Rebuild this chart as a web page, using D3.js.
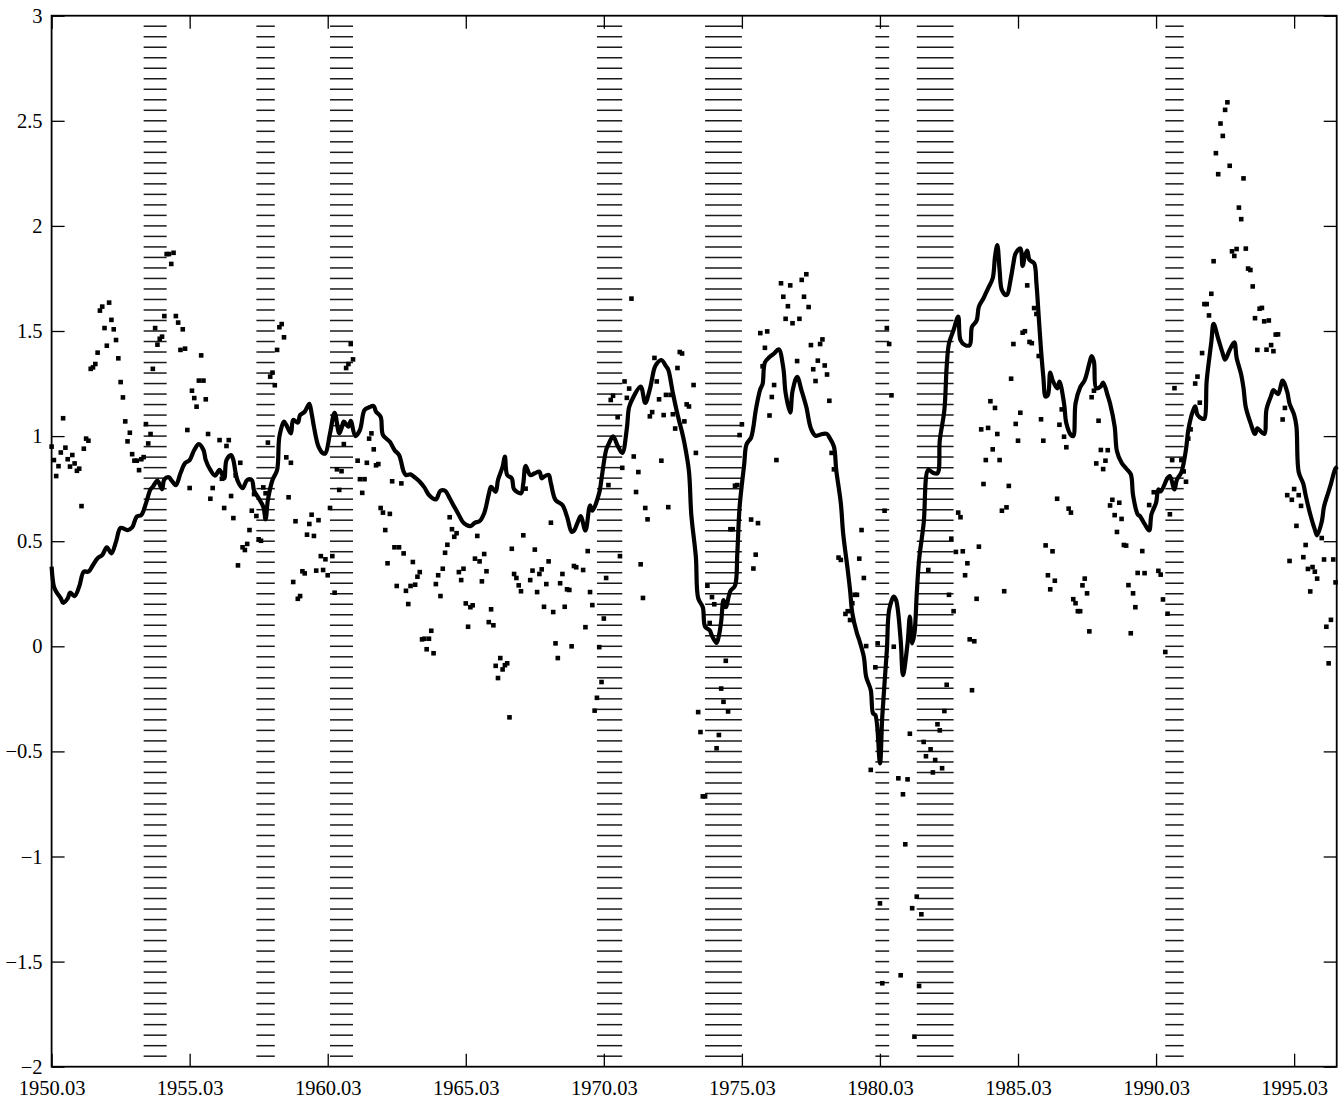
<!DOCTYPE html>
<html>
<head>
<meta charset="utf-8">
<script src="https://d3js.org/d3.v7.min.js"></script>
<style>
  body { margin: 0; background: #fff; }
  svg text { font-family: "Liberation Serif", "Times New Roman", serif; font-size: 20.5px; fill: #000; }
</style>
</head>
<body>
<script>
// month index 0 = 1950.03 (one entry per month)
var xTickLabels = ["1950.03", "1955.03", "1960.03", "1965.03", "1970.03",
                   "1975.03", "1980.03", "1985.03", "1990.03", "1995.03"];
var yTicks = [-2, -1.5, -1, -0.5, 0, 0.5, 1, 1.5, 2, 2.5, 3];

// shaded periods (start, end)
var recessions = [["1953.07", "1954.05"], ["1957.08", "1958.04"], ["1960.04", "1961.02"],
                  ["1969.12", "1970.11"], ["1973.11", "1975.03"], ["1980.01", "1980.07"],
                  ["1981.07", "1982.11"], ["1990.07", "1991.03"]];

// monthly points, null = no mark
var dotValues = [
  0.95,0.886,0.81,0.857,0.922,1.085,0.945,0.89,0.855,0.91,0.87,0.835,
  0.845,0.667,0.94,0.988,0.978,1.32,1.327,1.343,1.397,1.597,1.616,1.514,
  1.43,1.635,1.553,1.508,1.457,1.37,1.257,1.184,1.07,0.975,1.016,0.914,
  0.883,0.883,0.838,0.89,0.9,1.057,0.965,1.01,1.32,1.514,1.435,1.463,
  1.473,1.571,1.866,1.866,1.819,1.872,1.571,1.54,1.41,1.508,1.416,1.029,
  0.753,1.216,1.181,1.14,1.264,1.384,1.264,1.175,1.01,0.702,0.753,null,
  null,0.981,0.797,0.658,0.953,0.981,0.715,0.61,0.813,0.385,0.873,0.471,
  0.458,0.487,0.553,0.645,0.724,0.62,0.509,0.502,0.756,0.728,0.969,1.283,
  1.302,1.242,1.41,1.518,1.533,1.47,0.899,0.709,0.873,0.306,0.595,0.226,
  0.239,0.357,0.347,0.531,0.582,0.626,0.525,0.36,0.6,0.429,0.363,0.414,
  0.338,0.658,0.429,0.255,0.842,0.744,0.833,0.962,1.324,1.343,1.438,1.365,
  null,0.883,0.795,0.73,0.795,0.873,0.988,1.013,0.937,0.861,0.867,0.658,
  0.636,0.553,0.395,0.63,0.785,0.471,0.287,0.471,0.775,0.442,0.264,0.201,
  0.287,0.401,0.293,0.331,0.353,0.033,0.036,-0.014,0.036,0.074,-0.033,0.296,
  0.338,0.239,0.369,0.445,0.483,0.614,0.557,0.521,0.538,0.353,0.315,0.369,
  0.204,0.093,0.186,0.195,0.417,0.525,0.404,0.309,0.439,0.357,0.115,0.176,
  0.1,-0.093,-0.151,-0.056,-0.11,-0.09,-0.081,-0.338,0.464,0.344,0.325,0.29,
  0.262,0.528,0.75,null,0.315,0.36,0.46,0.258,0.344,0.366,0.188,0.296,
  0.404,0.588,0.163,0.014,-0.056,0.3,0.344,0.188,0.271,0.268,0.0,0.382,
  0.376,null,null,0.363,0.091,0.453,0.258,0.196,-0.306,-0.245,-0.004,-0.17,
  0.132,0.325,0.767,1.172,1.192,null,1.09,0.429,0.849,1.26,1.182,1.226,
  1.654,0.903,0.734,0.829,0.39,0.23,0.658,0.604,1.094,1.114,1.372,1.26,
  1.175,0.883,1.1,1.196,0.662,1.196,1.104,1.036,1.324,1.4,1.393,1.07,
  1.151,1.141,null,1.243,0.92,-0.313,-0.408,-0.714,-0.714,0.288,0.111,0.234,
  0.2,-0.485,-0.422,-0.201,-0.264,-0.069,-0.31,0.557,0.557,0.764,0.767,1.005,
  1.056,null,null,null,0.603,0.37,0.436,0.586,1.49,1.332,1.42,1.498,
  1.098,1.186,1.243,0.886,null,1.727,1.663,1.558,1.618,1.717,1.537,null,
  1.357,1.558,1.743,1.663,1.77,1.614,1.433,1.318,1.262,1.359,1.438,1.46,
  1.336,1.293,1.168,0.92,0.842,null,0.422,0.411,null,0.154,0.167,0.125,
  0.205,0.245,0.245,0.417,0.553,0.325,0.001,null,-0.588,null,-0.1,0.014,
  -1.223,-1.603,0.645,1.514,1.438,1.194,-0.002,null,-0.628,-1.565,-0.704,-0.942,
  -0.633,-0.416,-1.246,-1.857,-1.191,-1.616,-1.275,-0.455,-0.523,0.363,-0.49,-0.6,
  -0.541,-0.371,-0.4,-0.58,-0.308,-0.183,0.245,0.512,0.167,0.449,0.636,0.614,
  0.452,0.338,0.395,0.033,-0.209,0.024,0.226,0.474,1.032,0.772,0.886,1.039,
  1.166,0.937,1.134,1.01,0.886,0.645,0.262,0.661,0.763,1.273,1.438,1.058,
  0.978,1.111,1.492,1.499,1.717,1.448,1.442,1.609,1.581,1.381,1.08,0.978,
  0.48,0.338,0.271,0.452,0.312,0.702,1.054,1.127,0.997,0.947,0.655,0.636,
  0.224,0.205,0.167,0.167,0.29,0.322,0.252,0.071,1.185,1.216,0.87,1.073,
  0.934,0.843,0.883,0.933,0.67,0.697,0.624,0.544,0.683,0.606,0.482,0.479,
  0.291,0.062,0.252,0.186,0.349,null,0.453,0.348,null,0.672,null,0.733,
  null,0.359,0.341,0.223,-0.027,0.155,0.628,0.886,1.228,null,null,0.886,
  0.832,0.783,0.988,1.032,null,1.25,1.283,1.159,1.395,1.628,1.628,1.574,
  1.677,1.832,2.346,2.246,2.487,2.428,2.552,2.588,2.286,1.879,1.857,1.89,
  2.087,2.032,2.226,1.892,1.797,1.79,1.712,1.561,1.41,1.606,1.61,1.546,
  1.411,1.55,1.433,1.404,1.483,1.484,null,1.079,1.134,0.719,0.406,0.697,
  0.748,0.573,0.719,0.668,0.424,0.482,0.368,0.261,0.377,0.355,0.322,null,
  0.515,0.413,0.093,-0.081,0.126,0.413,0.304
];

// smoothed series: [month index, value]
var lineData = [
  [0,0.379],[1,0.284],[2,0.26],[4,0.228],[5,0.207],[7,0.228],[8,0.255],[10,0.239],[12,0.284],
  [14,0.355],[16,0.355],[18,0.387],[20,0.419],[22,0.434],[24,0.471],[26,0.442],[28,0.498],
  [30,0.563],[33,0.553],[35,0.566],[37,0.617],[39,0.625],[41,0.68],[43,0.747],[44,0.759],
  [46,0.788],[48,0.747],[49,0.794],[51,0.804],[52,0.791],[54,0.767],[56,0.823],[58,0.871],
  [60,0.886],[62,0.934],[64,0.962],[66,0.934],[67,0.886],[69,0.839],[71,0.812],[73,0.839],
  [75,0.799],[76,0.886],[78,0.91],[79,0.886],[80,0.823],[81,0.783],[83,0.752],[85,0.791],
  [87,0.791],[88,0.74],[90,0.704],[92,0.664],[93,0.604],[94,0.696],[96,0.791],[98,0.839],
  [99,0.997],[101,1.069],[102,1.053],[104,1.013],[105,1.077],[107,1.064],[108,1.1],[110,1.116],
  [112,1.153],[113,1.108],[114,1.045],[116,0.95],[118,0.918],[119,0.918],[121,1.013],[123,1.111],
  [125,1.013],[126,1.037],[127,1.069],[129,1.045],[130,1.073],[132,1.0],[134,1.029],[136,1.124],
  [138,1.137],[140,1.143],[141,1.116],[143,1.092],[144,1.005],[147,0.973],[149,0.934],[151,0.91],
  [153,0.831],[154,0.815],[156,0.818],[158,0.802],[160,0.783],[162,0.756],[164,0.72],[167,0.699],
  [169,0.74],[171,0.74],[173,0.704],[175,0.664],[177,0.625],[179,0.588],[182,0.572],[184,0.588],
  [186,0.595],[188,0.633],[190,0.724],[191,0.759],[193,0.735],[194,0.791],[196,0.854],[197,0.902],
  [198,0.815],[200,0.799],[201,0.747],[204,0.728],[205,0.775],[206,0.858],[208,0.815],[210,0.823],
  [212,0.831],[213,0.799],[214,0.807],[216,0.815],[217,0.775],[219,0.696],[222,0.672],[224,0.617],
  [226,0.545],[227,0.55],[229,0.6],[230,0.619],[232,0.551],[234,0.67],[235,0.645],[238,0.73],
  [239,0.798],[241,0.934],[242,0.96],[244,0.999],[246,0.954],[248,0.92],[250,1.036],[251,1.138],
  [253,1.189],[256,1.236],[258,1.158],[260,1.223],[262,1.324],[263,1.345],[265,1.362],[267,1.333],
  [268,1.316],[270,1.205],[272,1.104],[274,1.018],[275,0.968],[277,0.832],[278,0.628],[280,0.424],
  [281,0.229],[283,0.186],[284,0.093],[286,0.076],[287,0.05],[289,0.016],[290,0.05],[291,0.118],
  [292,0.22],[293,0.186],[295,0.263],[297,0.288],[298,0.441],[299,0.662],[301,0.866],[302,0.96],
  [304,0.993],[305,1.044],[306,1.121],[308,1.223],[309,1.248],[310,1.35],[312,1.376],[314,1.393],
  [316,1.413],[318,1.324],[319,1.205],[321,1.112],[322,1.214],[324,1.282],[326,1.214],[328,1.138],
  [330,1.036],[332,1.002],[335,1.01],[337,1.01],[338,0.994],[340,0.95],[341,0.839],[343,0.68],
  [344,0.538],[346,0.363],[347,0.268],[348,0.157],[350,0.062],[351,0.03],[353,-0.05],[354,-0.145],
  [356,-0.208],[357,-0.319],[358,-0.327],[360,-0.557],[361,-0.335],[363,-0.018],[364,0.173],
  [366,0.236],[367,0.22],[369,0.03],[370,-0.137],[372,0.014],[373,0.141],[374,0.014],[375,0.062],
  [376,0.252],[377,0.411],[379,0.585],[381,0.839],[383,0.826],[385,0.823],[386,0.98],[388,1.124],
  [389,1.33],[390,1.441],[392,1.505],[394,1.568],[395,1.457],[397,1.433],[399,1.433],[400,1.52],
  [402,1.549],[403,1.616],[405,1.656],[407,1.703],[409,1.751],[410,1.853],[411,1.909],[412,1.79],
  [413,1.695],[415,1.671],[417,1.758],[418,1.822],[419,1.87],[421,1.893],[422,1.809],[423,1.857],
  [424,1.882],[425,1.838],[427,1.822],[428,1.727],[429,1.568],[430,1.41],[431,1.283],[432,1.188],
  [433,1.196],[434,1.302],[435,1.267],[437,1.227],[438,1.259],[440,1.156],[441,1.061],[443,1.005],
  [444,1.0],[445,1.156],[447,1.232],[449,1.267],[451,1.346],[452,1.381],[453,1.355],[454,1.228],
  [456,1.237],[457,1.255],[459,1.192],[460,1.155],[462,1.046],[463,0.928],[465,0.873],[467,0.846],
  [469,0.819],[470,0.719],[472,0.628],[473,0.619],[475,0.582],[477,0.551],[478,0.628],[480,0.683],
  [481,0.746],[482,0.737],[485,0.801],[486,0.81],[488,0.746],[489,0.791],[491,0.828],[493,0.937],
  [494,1.028],[496,1.119],[497,1.141],[498,1.101],[500,1.083],[501,1.083],[502,1.264],[504,1.446],
  [505,1.534],[507,1.464],[509,1.392],[510,1.364],[512,1.41],[514,1.446],[515,1.373],[517,1.292],
  [518,1.228],[519,1.137],[521,1.064],[523,1.01],[524,1.037],[525,1.028],[527,1.01],[528,1.128],
  [530,1.192],[531,1.219],[533,1.2],[535,1.264],[537,1.21],[538,1.155],[540,1.101],[541,1.046],
  [542,0.828],[544,0.773],[545,0.719],[547,0.628],[549,0.555],[550,0.528],[552,0.592],[553,0.665],
  [555,0.737],[556,0.773],[558,0.846],[558.9,0.855]
];

// "YYYY.MM" -> months since 1950.03
function monthIndex(s) {
  var p = s.split(".");
  return (+p[0] - 1950) * 12 + (+p[1] - 3);
}

var width = 1342, height = 1099;
var plotLeft = 51.6, plotRight = 1336.7, plotTop = 15.7, plotBottom = 1066.7;
var tickLen = 13;

var x = d3.scaleLinear().domain([0, 558.5]).range([plotLeft, plotRight]);
var y = d3.scaleLinear().domain([-2, 3]).range([plotBottom, plotTop]);

var svg = d3.select("body").append("svg")
    .attr("width", width)
    .attr("height", height);

// hatched bands: horizontal dashes every 0.05
var hatchLevels = d3.range(-39, 60).map(function(k) { return k * 0.05; });
var bands = svg.append("g").selectAll("g")
    .data(recessions)
    .enter().append("g");
bands.each(function(r) {
  var x0 = x(monthIndex(r[0])), x1 = x(monthIndex(r[1]));
  d3.select(this).selectAll("line")
    .data(hatchLevels)
    .enter().append("line")
    .attr("x1", x0).attr("x2", x1)
    .attr("y1", function(v) { return y(v); })
    .attr("y2", function(v) { return y(v); })
    .attr("stroke", "#1a1a1a")
    .attr("stroke-width", 1.5);
});

// smoothed line
var line = d3.line()
    .curve(d3.curveCatmullRom.alpha(0.5))
    .x(function(d) { return x(d[0]); })
    .y(function(d) { return y(d[1]); });
svg.append("path")
    .datum(lineData)
    .attr("d", line)
    .attr("fill", "none")
    .attr("stroke", "#000")
    .attr("stroke-width", 4.2)
    .attr("stroke-linejoin", "round");

// monthly dots
var dotSize = 4.6;
var dots = dotValues.map(function(v, i) { return [i, v]; })
    .filter(function(d) { return d[1] !== null; });
svg.append("g").selectAll("rect")
    .data(dots)
    .enter().append("rect")
    .attr("x", function(d) { return x(d[0]) - dotSize / 2; })
    .attr("y", function(d) { return y(d[1]) - dotSize / 2; })
    .attr("width", dotSize)
    .attr("height", dotSize)
    .attr("fill", "#000");

// axes (ticks drawn inward on all four sides)
var xTicks = xTickLabels.map(monthIndex);
var fmt = function(d) { return d3.format("")(d).replace("-", "\u2212"); };

svg.append("g")
    .attr("transform", "translate(0," + plotBottom + ")")
    .call(d3.axisBottom(x).tickValues(xTicks)
      .tickFormat(function(d, i) { return xTickLabels[i]; })
      .tickSizeInner(-tickLen).tickSizeOuter(0).tickPadding(14));
svg.append("g")
    .attr("transform", "translate(0," + plotTop + ")")
    .call(d3.axisTop(x).tickValues(xTicks).tickFormat("")
      .tickSizeInner(-tickLen).tickSizeOuter(0));
svg.append("g")
    .attr("transform", "translate(" + plotLeft + ",0)")
    .call(d3.axisLeft(y).tickValues(yTicks).tickFormat(fmt)
      .tickSizeInner(-tickLen).tickSizeOuter(0).tickPadding(9));
svg.append("g")
    .attr("transform", "translate(" + plotRight + ",0)")
    .call(d3.axisRight(y).tickValues(yTicks).tickFormat("")
      .tickSizeInner(-tickLen).tickSizeOuter(0));

svg.selectAll(".domain").remove();
svg.selectAll(".tick line").attr("stroke", "#000").attr("stroke-width", 1.3);
svg.selectAll(".tick text")
    .attr("font-family", null).attr("font-size", null);

svg.append("rect")
    .attr("x", plotLeft).attr("y", plotTop)
    .attr("width", plotRight - plotLeft).attr("height", plotBottom - plotTop)
    .attr("fill", "none")
    .attr("stroke", "#000")
    .attr("stroke-width", 1.8);
</script>
</body>
</html>
